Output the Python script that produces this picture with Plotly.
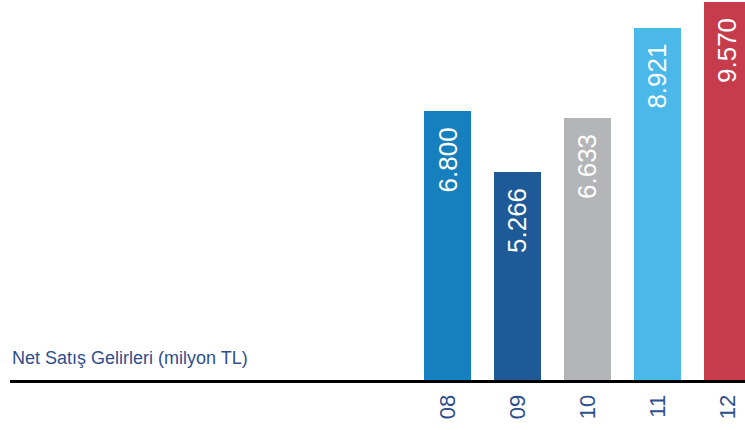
import plotly.graph_objects as go

years = ["08", "09", "10", "11", "12"]
sales = [6.800, 5.266, 6.633, 8.921, 9.570]
value_labels = ["6.800", "5.266", "6.633", "8.921", "9.570"]
bar_colors = ["#1580BD", "#1E5A98", "#B4B5B8", "#4AB8E8", "#C63C4C"]
title_text = "Net Satış Gelirleri (milyon TL)"

fig = go.Figure()
fig.add_trace(go.Bar(
    x=years, y=sales, width=0.67,
    marker=dict(color=bar_colors, line=dict(width=0)),
    hoverinfo="skip",
))

for i, (v, lab) in enumerate(zip(sales, value_labels)):
    fig.add_annotation(
        x=i, y=v, text=lab, textangle=-90, showarrow=False,
        xanchor="center", yanchor="top", yshift=-14,
        font=dict(family="Liberation Sans, Arial, sans-serif", size=26, color="white"),
    )

fig.update_layout(
    width=745, height=430,
    margin=dict(l=10, r=0, t=0, b=50),
    paper_bgcolor="white", plot_bgcolor="white",
    showlegend=False,
    bargap=0,
    xaxis=dict(type="category", range=[-6.25, 4.25], showgrid=False, zeroline=False,
               showline=True, linecolor="black", linewidth=3, automargin=False,
               tickangle=-90, ticks="", ticklabelstandoff=3,
               tickfont=dict(family="Liberation Sans, Arial, sans-serif", size=22, color="#2E4E8C")),
    yaxis=dict(range=[0, 9.62], visible=False, showgrid=False, zeroline=False, automargin=False),
)

fig.add_annotation(
    text=title_text, xref="paper", yref="paper", x=0, y=0.058,
    xanchor="left", yanchor="middle", showarrow=False,
    font=dict(family="Liberation Sans, Arial, sans-serif", size=18, color="#2E4E8C"),
)

fig.write_html("out.html", config={"displayModeBar": False},
               post_script="document.body.style.margin='0';")
